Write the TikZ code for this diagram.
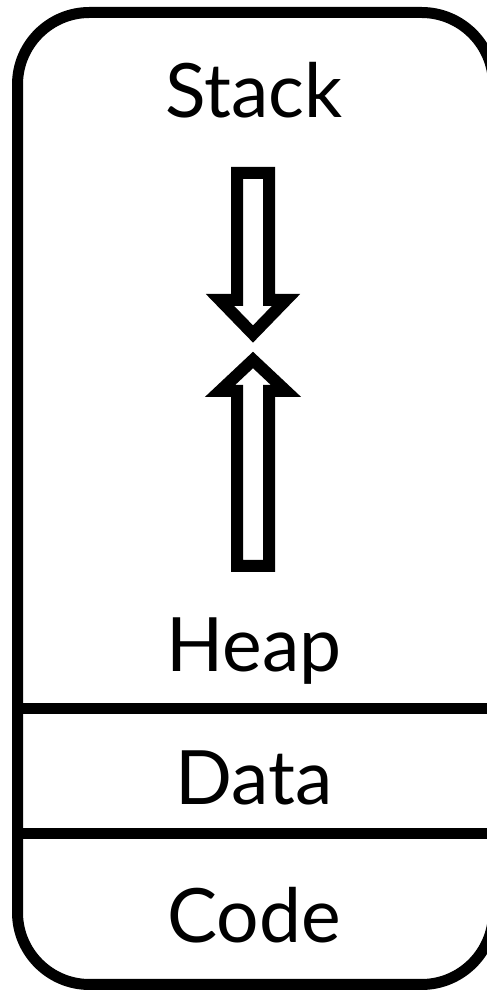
\documentclass[tikz,border=0pt]{standalone}
\usepackage{fontspec}
\setmainfont{Lato}

\tikzset{
  wall/.style={line width=11pt},
  hollow/.style={line width=12pt, line join=miter},
  seglabel/.style={anchor=base, inner sep=0pt, font=\fontsize{75}{90}\selectfont}
}

\begin{document}
\begin{tikzpicture}[x=1pt, y=1pt]
    % 画布大小
    \clip (0,0) rectangle (487,991);

    % 外框
    \draw[wall, rounded corners=72pt] (17.5,6.5) rectangle (493.5,978.5);

    % 分隔线
    \coordinate (h1l) at (17.5,282);
    \coordinate (h1r) at (493.5,282);
    \coordinate (h2l) at (17.5,157);
    \coordinate (h2r) at (493.5,157);
    \draw[wall] (h1l) -- (h1r);
    \draw[wall] (h2l) -- (h2r);

    % 各段名称
    \node[seglabel] (stack) at (254,873) {Stack};
    \node[seglabel] (heap)  at (254,319) {Heap};
    \node[seglabel] (data)  at (254,186) {Data};
    \node[seglabel] (code)  at (254,48)  {Code};

    % 向下的空心箭头 (栈)
    \draw[hollow] (237,818) -- (237,691) -- (220,691) -- (253,657)
        -- (286,691) -- (269,691) -- (269,818) -- cycle;

    % 向上的空心箭头 (堆)
    \draw[hollow] (237,425) -- (237,600) -- (220,600) -- (253,631)
        -- (286,600) -- (269,600) -- (269,425) -- cycle;
\end{tikzpicture}
\end{document}
